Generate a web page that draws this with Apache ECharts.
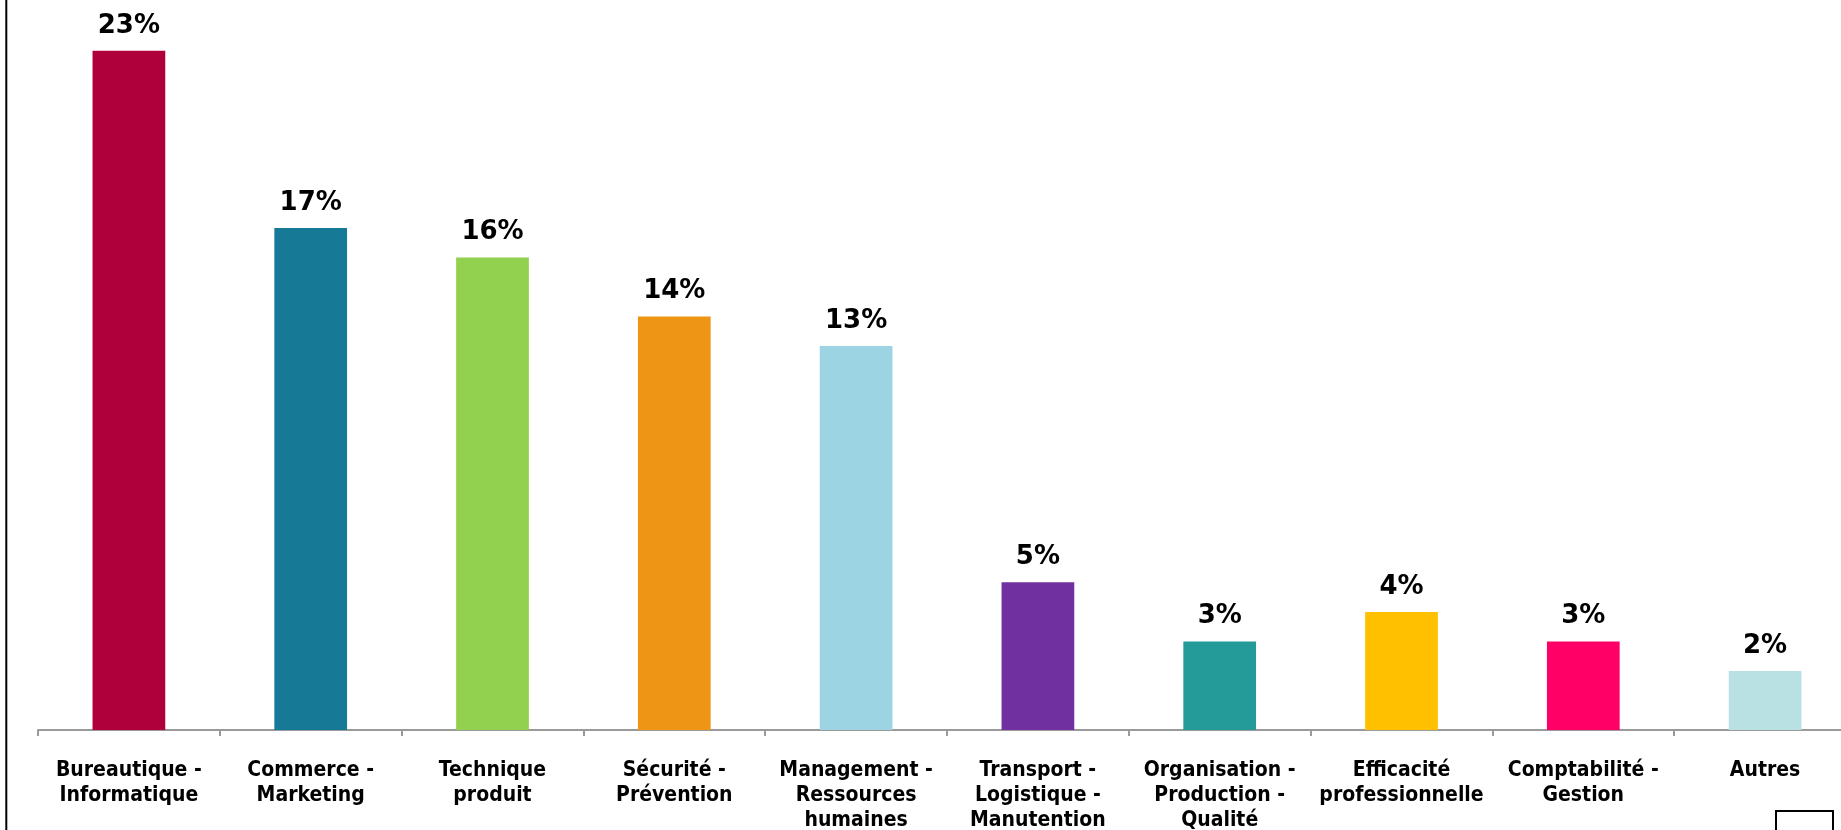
<!DOCTYPE html>
<html>
<head>
<meta charset="utf-8">
<script src="https://cdn.jsdelivr.net/npm/echarts@6/dist/echarts.min.js"></script>
<style>
html,body{margin:0;padding:0;background:#fff;}
#chart{width:1841px;height:830px;}
</style>
</head>
<body>
<div id="chart"></div>
<script>
const categories = [
  "Bureautique -\nInformatique",
  "Commerce -\nMarketing",
  "Technique\nproduit",
  "Sécurité -\nPrévention",
  "Management -\nRessources\nhumaines",
  "Transport -\nLogistique -\nManutention",
  "Organisation -\nProduction -\nQualité",
  "Efficacité\nprofessionnelle",
  "Comptabilité -\nGestion",
  "Autres"
];
const values = [23, 17, 16, 14, 13, 5, 3, 4, 3, 2];
const colors = ["#B0003C", "#167A96", "#92D050", "#EE9516", "#9DD4E3", "#7030A0", "#249A99", "#FFC000", "#FF0066", "#B9E0E3"];

const chart = echarts.init(document.getElementById('chart'));
chart.setOption({
  animation: false,
  backgroundColor: '#ffffff',
  grid: { left: 38, right: -15, top: 21.3, bottom: 100, containLabel: false, outerBoundsMode: 'none' },
  xAxis: {
    type: 'category',
    data: categories,
    axisLine: { show: true, lineStyle: { color: '#9A9A9A', width: 2 } },
    axisTick: { show: true, length: 6, lineStyle: { color: '#9A9A9A', width: 2 } },
    axisLabel: {
      interval: 0,
      margin: 28,
      color: '#000',
      fontFamily: 'DejaVu Sans Condensed',
      fontWeight: 'bold',
      fontSize: 21,
      lineHeight: 25
    }
  },
  yAxis: { type: 'value', min: 0, max: 24, show: false, splitLine: { show: false } },
  series: [{
    type: 'bar',
    barWidth: '40%',
    data: values.map((v, i) => ({ value: v, itemStyle: { color: colors[i] } })),
    label: {
      show: true,
      position: 'top',
      distance: 12,
      formatter: '{c}%',
      color: '#000',
      fontFamily: 'DejaVu Sans',
      fontWeight: 'bold',
      fontSize: 26
    }
  }],
  graphic: [
    { type: 'line', shape: { x1: 6.3, y1: 0, x2: 6.3, y2: 830 }, style: { stroke: '#000', lineWidth: 2 } },
    { type: 'rect', shape: { x: 1776, y: 811, width: 57, height: 40 }, style: { fill: 'none', stroke: '#000', lineWidth: 2 } }
  ]
});
</script>
</body>
</html>
